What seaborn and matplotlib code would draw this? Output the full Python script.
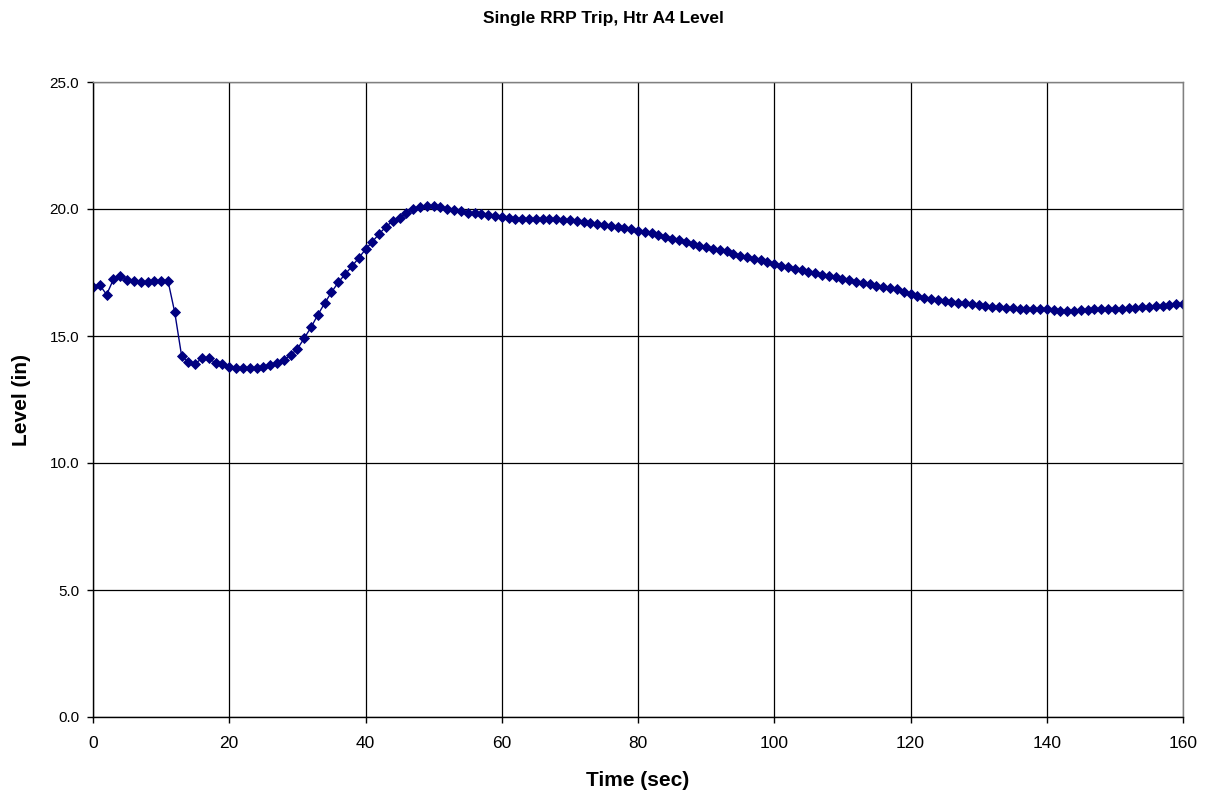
import matplotlib
matplotlib.use("Agg")
import matplotlib.pyplot as plt
import seaborn as sns
import pandas as pd

# Heater A4 level following a single RRP trip, sampled once per second
time_sec = list(range(0, 161))
level_in = [
    16.94, 17.00, 16.63, 17.23, 17.37, 17.22, 17.17, 17.11, 17.11, 17.15,
    17.18, 17.18, 15.93, 14.23, 13.96, 13.91, 14.12, 14.12, 13.94, 13.88,
    13.78, 13.73, 13.73, 13.73, 13.73, 13.78, 13.86, 13.95, 14.06, 14.25,
    14.49, 14.91, 15.34, 15.83, 16.29, 16.72, 17.11, 17.43, 17.74, 18.07,
    18.41, 18.71, 19.02, 19.30, 19.53, 19.65, 19.84, 20.01, 20.08, 20.13,
    20.12, 20.07, 20.00, 19.95, 19.91, 19.86, 19.83, 19.79, 19.75, 19.71,
    19.67, 19.65, 19.62, 19.61, 19.61, 19.61, 19.61, 19.61, 19.60, 19.58,
    19.55, 19.53, 19.50, 19.46, 19.42, 19.37, 19.33, 19.30, 19.26, 19.21,
    19.15, 19.09, 19.04, 18.98, 18.91, 18.83, 18.78, 18.71, 18.64, 18.56,
    18.49, 18.43, 18.39, 18.33, 18.23, 18.16, 18.10, 18.04, 17.98, 17.93,
    17.85, 17.77, 17.70, 17.65, 17.60, 17.53, 17.47, 17.41, 17.36, 17.31,
    17.24, 17.19, 17.14, 17.09, 17.03, 16.98, 16.94, 16.89, 16.84, 16.74,
    16.66, 16.58, 16.51, 16.45, 16.40, 16.36, 16.33, 16.30, 16.28, 16.26,
    16.22, 16.18, 16.15, 16.13, 16.10, 16.09, 16.08, 16.06, 16.06, 16.06,
    16.05, 16.02, 16.00, 15.98, 15.98, 16.01, 16.04, 16.06, 16.06, 16.06,
    16.07, 16.08, 16.09, 16.12, 16.13, 16.14, 16.17, 16.20, 16.22, 16.27,
    16.27,
]
x_ticks = [0, 20, 40, 60, 80, 100, 120, 140, 160]
y_ticks = [0.0, 5.0, 10.0, 15.0, 20.0, 25.0]

sns.set_style("white")
plt.rcParams["font.family"] = ["Liberation Sans", "DejaVu Sans"]
plt.rcParams["text.color"] = "black"
plt.rcParams["axes.labelcolor"] = "black"
plt.rcParams["xtick.color"] = "black"
plt.rcParams["ytick.color"] = "black"

df = pd.DataFrame({"Time (sec)": time_sec, "Level (in)": level_in})

fig = plt.figure(figsize=(12.08, 7.98), dpi=100)
ax = fig.add_axes([93 / 1208, 1 - 717 / 798, 1090 / 1208, 635 / 798])

sns.lineplot(
    data=df, x="Time (sec)", y="Level (in)", ax=ax,
    color="#000080", linewidth=1.0, marker="D", markersize=5.0,
    markeredgewidth=0.6, markeredgecolor="#000080", markerfacecolor="#000080",
)

ax.set_xlim(0, 160)
ax.set_ylim(0, 25)
ax.set_xticks(x_ticks)
ax.set_yticks(y_ticks)
ax.set_yticklabels([f"{v:.1f}" for v in y_ticks])
ax.grid(True, color="black", linewidth=0.9)
ax.set_axisbelow(True)

for side in ("top", "right"):
    ax.spines[side].set_color("#808080")
    ax.spines[side].set_linewidth(1.0)
for side in ("left", "bottom"):
    ax.spines[side].set_color("black")
    ax.spines[side].set_linewidth(1.0)

ax.tick_params(axis="both", direction="out", length=4, width=1, color="black",
               bottom=True, left=True)
ax.tick_params(axis="x", labelsize=12.5, pad=9.5)
ax.tick_params(axis="y", labelsize=11, pad=6)

ax.set_xlabel("Time (sec)", fontsize=15, fontweight="bold")
ax.set_ylabel("Level (in)", fontsize=15, fontweight="bold")
ax.xaxis.set_label_coords(0.5, (717 - 780) / 635, transform=ax.transAxes)
ax.xaxis.label.set_va("center")
ax.yaxis.set_label_coords((22 - 93) / 1090, 0.5, transform=ax.transAxes)
ax.yaxis.label.set_va("center")

fig.text(603 / 1208, 1 - 19 / 798, "Single RRP Trip, Htr A4 Level",
         fontsize=12.5, fontweight="bold", ha="center", va="center")

fig.savefig("out.png", dpi=100, facecolor="white")
